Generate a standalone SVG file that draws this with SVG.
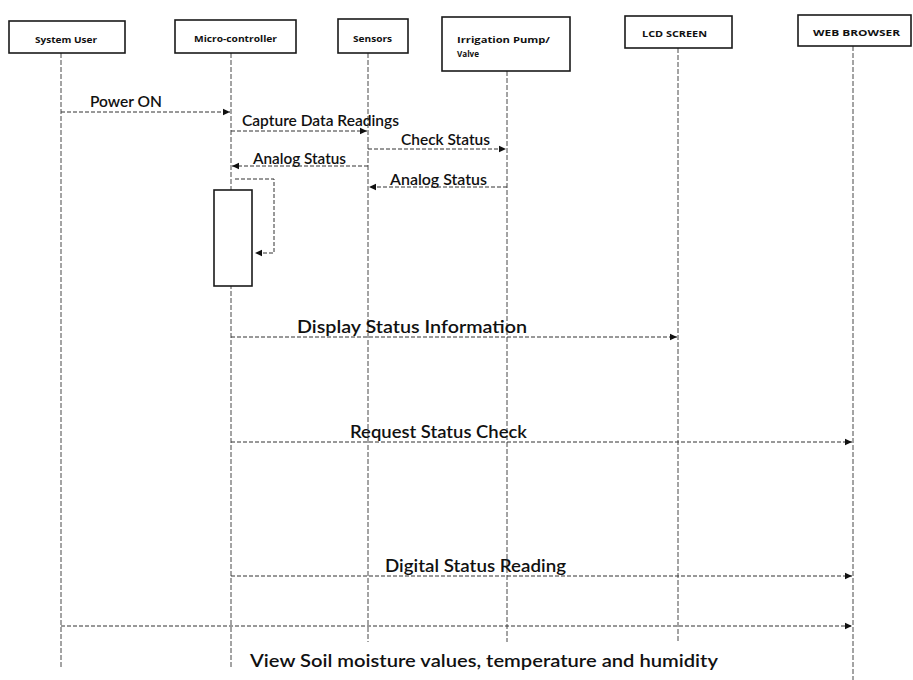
<svg xmlns="http://www.w3.org/2000/svg" width="913" height="680" viewBox="0 0 913 680">
<style>
.box{fill:#fff;stroke:#1a1a1a;stroke-width:1.6}
.hd{font-family:"Open Sans","Liberation Sans",sans-serif;font-weight:bold;font-size:8.5px;fill:#111}
.life{stroke:#333;stroke-width:0.9;stroke-dasharray:5 2;fill:none}
.msg{stroke:#333;stroke-width:1;stroke-dasharray:4 2;fill:none}
.lbl{font-family:Lato,"Open Sans",sans-serif;font-size:18px;font-weight:600;fill:#111}
.sm{font-size:15px}
</style>
<defs>
<marker id="ah" markerWidth="8" markerHeight="8" refX="7" refY="4" orient="auto" markerUnits="userSpaceOnUse">
<path d="M0,0.8 L7,4 L0,7.2 Z" fill="#111"/>
</marker>
</defs>
<rect width="913" height="680" fill="#fff"/>
<g id="lifelines">
<line class="life" x1="61" y1="53" x2="61" y2="668"/>
<line class="life" x1="231" y1="53" x2="231" y2="668"/>
<line class="life" x1="368" y1="53" x2="368" y2="642"/>
<line class="life" x1="507" y1="71" x2="507" y2="642"/>
<line class="life" x1="678" y1="48" x2="678" y2="642"/>
<line class="life" x1="853" y1="46" x2="853" y2="680"/>
</g>
<g id="user"><rect class="box" x="9" y="21" width="116" height="32"/><text class="hd" x="35" y="43" textLength="62" lengthAdjust="spacingAndGlyphs">System User</text></g>
<g id="micro"><rect class="box" x="175" y="20" width="121" height="33"/><text class="hd" x="194" y="42" textLength="83" lengthAdjust="spacingAndGlyphs">Micro-controller</text></g>
<g id="sensors"><rect class="box" x="338" y="19" width="70" height="34"/><text class="hd" x="353" y="42" textLength="39" lengthAdjust="spacingAndGlyphs">Sensors</text></g>
<g id="pump"><rect class="box" x="442" y="17" width="128" height="54"/><text class="hd" x="457" y="43" textLength="93" lengthAdjust="spacingAndGlyphs">Irrigation Pump/</text><text class="hd" x="457" y="57" textLength="22" lengthAdjust="spacingAndGlyphs">Valve</text></g>
<g id="lcd"><rect class="box" x="625" y="16" width="107" height="32"/><text class="hd" x="642" y="37" textLength="65" lengthAdjust="spacingAndGlyphs">LCD SCREEN</text></g>
<g id="web"><rect class="box" x="798" y="15" width="113" height="31"/><text class="hd" x="813" y="36" textLength="87" lengthAdjust="spacingAndGlyphs">WEB  BROWSER</text></g>
<g id="activation"><rect class="box" x="214" y="190" width="38" height="96"/></g>
<g id="connectors">
<line class="msg" x1="61" y1="112" x2="230" y2="112" marker-end="url(#ah)"/>
<line class="msg" x1="231" y1="131" x2="367" y2="131" marker-end="url(#ah)"/>
<line class="msg" x1="368" y1="149" x2="506" y2="149" marker-end="url(#ah)"/>
<line class="msg" x1="368" y1="166" x2="232" y2="166" marker-end="url(#ah)"/>
<line class="msg" x1="507" y1="187" x2="369" y2="187" marker-end="url(#ah)"/>
<polyline class="msg" points="235,179 274,179 274,253 255,253" marker-end="url(#ah)"/>
<line class="msg" x1="231" y1="337" x2="677" y2="337" marker-end="url(#ah)"/>
<line class="msg" x1="231" y1="442" x2="852" y2="442" marker-end="url(#ah)"/>
<line class="msg" x1="231" y1="576" x2="852" y2="576" marker-end="url(#ah)"/>
<line class="msg" x1="61" y1="626" x2="852" y2="626" marker-end="url(#ah)"/>
</g>
<g id="labels">
<text class="lbl sm" x="90" y="107" textLength="72" lengthAdjust="spacingAndGlyphs">Power ON</text>
<text class="lbl sm" x="242" y="126" textLength="157" lengthAdjust="spacingAndGlyphs">Capture Data Readings</text>
<text class="lbl sm" x="401" y="145" textLength="89" lengthAdjust="spacingAndGlyphs">Check Status</text>
<text class="lbl sm" x="253" y="164" textLength="93" lengthAdjust="spacingAndGlyphs">Analog Status</text>
<text class="lbl sm" x="390" y="185" textLength="97" lengthAdjust="spacingAndGlyphs">Analog Status</text>
<text class="lbl" x="297" y="333" textLength="230" lengthAdjust="spacingAndGlyphs">Display Status Information</text>
<text class="lbl" x="350" y="438" textLength="177" lengthAdjust="spacingAndGlyphs">Request Status Check</text>
<text class="lbl" x="385" y="572" textLength="181" lengthAdjust="spacingAndGlyphs">Digital Status Reading</text>
<text class="lbl" x="250" y="667" textLength="468" lengthAdjust="spacingAndGlyphs">View Soil moisture values, temperature and humidity</text>
</g>
</svg>
